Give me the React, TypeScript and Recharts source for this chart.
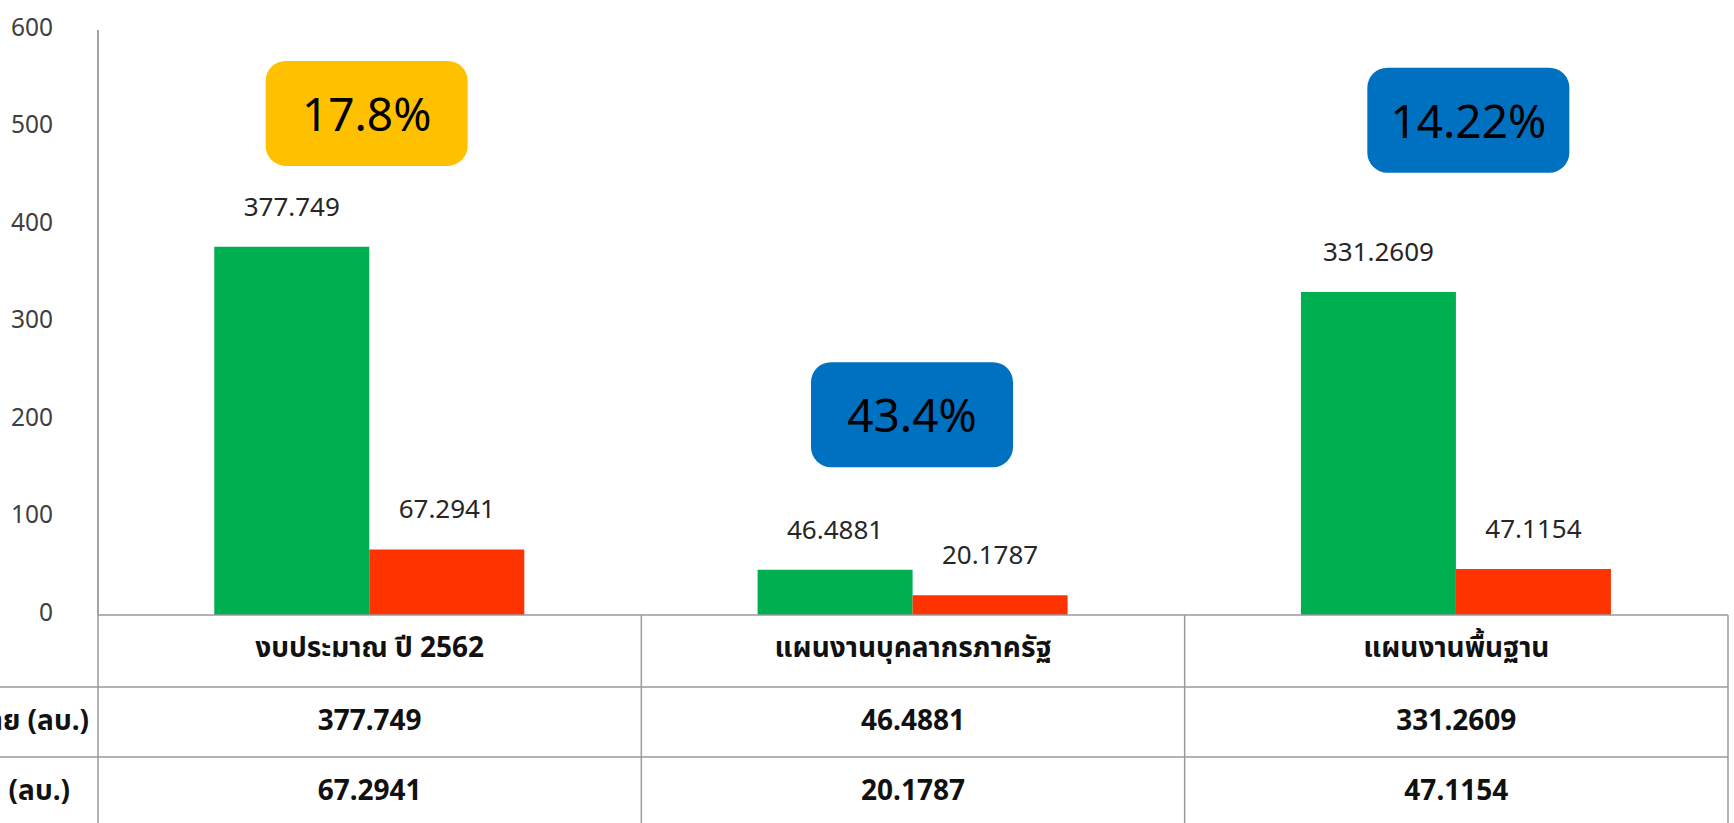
import { Bar, BarChart, LabelList, ReferenceDot, XAxis, YAxis } from 'recharts';

const categories = ['งบประมาณ ปี 2562', 'แผนงานบุคลากรภาครัฐ', 'แผนงานพื้นฐาน'];
const allocated = [377.749, 46.4881, 331.2609];
const disbursed = [67.2941, 20.1787, 47.1154];
const rowLabels = ['งบประมาณรายจ่าย (ลบ.)', 'ผลการเบิกจ่าย (ลบ.)'];
const rates = ['17.8%', '43.4%', '14.22%'];
const yTicks = [0, 100, 200, 300, 400, 500, 600];

const data = categories.map((category, i) => ({
  category,
  allocated: allocated[i],
  disbursed: disbursed[i],
}));

const W = 1734;
const H = 823;
const AXIS_W = 98;
const RIGHT = 6;
const BAND = (W - AXIS_W - RIGHT) / categories.length;
const GRID = '#9a9a9a';
const FONT = '"Noto Sans", "Noto Sans Thai", Tahoma, sans-serif';

// badge styling, placed in value units above each group
const badgeFill = ['#FFC000', '#0070C0', '#0070C0'];
const badgeLevel = [515, 206, 508];
const badgeShift = [-3, -1, 12];

function YTick({ x, y, payload }: any) {
  return (
    <text x={x} y={y - 4} textAnchor="end" dominantBaseline="central" fontSize={24.5} fill="#404040" fontFamily={FONT}>
      {payload.value}
    </text>
  );
}

function TableTick({ x, y, payload }: any) {
  const i = payload.index;
  const left = x - BAND / 2;
  const right = x + BAND / 2;
  const r1 = y + 72;
  const r2 = y + 142;
  const cell = { textAnchor: 'middle' as const, dominantBaseline: 'central' as const, fontSize: 28, fontWeight: 700, fill: '#111', fontFamily: FONT };
  return (
    <g>
      {i === 0 && (
        <g>
          <line x1={left} y1={y} x2={left} y2={H} stroke={GRID} strokeWidth={1.5} />
          <line x1={0} y1={r1} x2={left} y2={r1} stroke={GRID} strokeWidth={1.5} />
          <line x1={0} y1={r2} x2={left} y2={r2} stroke={GRID} strokeWidth={1.5} />
          <text x={89} y={y + 104} {...cell} textAnchor="end">
            {rowLabels[0]}
          </text>
          <text x={70} y={y + 174} {...cell} textAnchor="end">
            {rowLabels[1]}
          </text>
        </g>
      )}
      <line x1={right} y1={y} x2={right} y2={H} stroke={GRID} strokeWidth={1.5} />
      <line x1={left} y1={r1} x2={right} y2={r1} stroke={GRID} strokeWidth={1.5} />
      <line x1={left} y1={r2} x2={right} y2={r2} stroke={GRID} strokeWidth={1.5} />
      <text x={x} y={y + 31} {...cell}>{categories[i]}</text>
      <text x={x} y={y + 104} {...cell}>{allocated[i]}</text>
      <text x={x} y={y + 174} {...cell}>{disbursed[i]}</text>
    </g>
  );
}

function Badge({ cx, cy, index }: { cx?: number; cy?: number; index: number }) {
  if (cx == null || cy == null) return null;
  const bx = cx + badgeShift[index];
  return (
    <g>
      <rect x={bx - 101} y={cy - 52} width={202} height={105} rx={20} ry={20} fill={badgeFill[index]} />
      <text x={bx} y={cy} textAnchor="middle" dominantBaseline="central" fontSize={46} fill="#000" fontFamily={FONT}>
        {rates[index]}
      </text>
    </g>
  );
}

export default function App() {
  return (
    <div style={{ position: 'absolute', left: 0, top: 0, width: W, height: H, background: '#fff' }}>
      <BarChart
        width={W}
        height={H}
        data={data}
        margin={{ top: 30, right: RIGHT, bottom: 0, left: 0 }}
        barCategoryGap="21.4%"
        barGap={0}
      >
        <YAxis
          type="number"
          domain={[0, 600]}
          ticks={yTicks}
          width={AXIS_W}
          tickLine={false}
          tickSize={0}
          tickMargin={45}
          axisLine={{ stroke: '#868686', strokeWidth: 1.5 }}
          tick={<YTick />}
        />
        <XAxis
          dataKey="category"
          height={H - 615}
          tickLine={false}
          tickSize={0}
          tickMargin={0}
          interval={0}
          axisLine={{ stroke: GRID, strokeWidth: 1.5 }}
          tick={<TableTick />}
        />
        <Bar dataKey="allocated" fill="#00B050" isAnimationActive={false}>
          <LabelList dataKey="allocated" position="top" offset={31} fontSize={26} fill="#262626" fontFamily={FONT} />
        </Bar>
        <Bar dataKey="disbursed" fill="#FF3300" isAnimationActive={false}>
          <LabelList dataKey="disbursed" position="top" offset={31} fontSize={26} fill="#262626" fontFamily={FONT} />
        </Bar>
        {categories.map((c, i) => (
          <ReferenceDot
            key={c}
            x={c}
            y={badgeLevel[i]}
            r={0}
            ifOverflow="visible"
            shape={(p: any) => <Badge cx={p.cx} cy={p.cy} index={i} />}
          />
        ))}
      </BarChart>
    </div>
  );
}
